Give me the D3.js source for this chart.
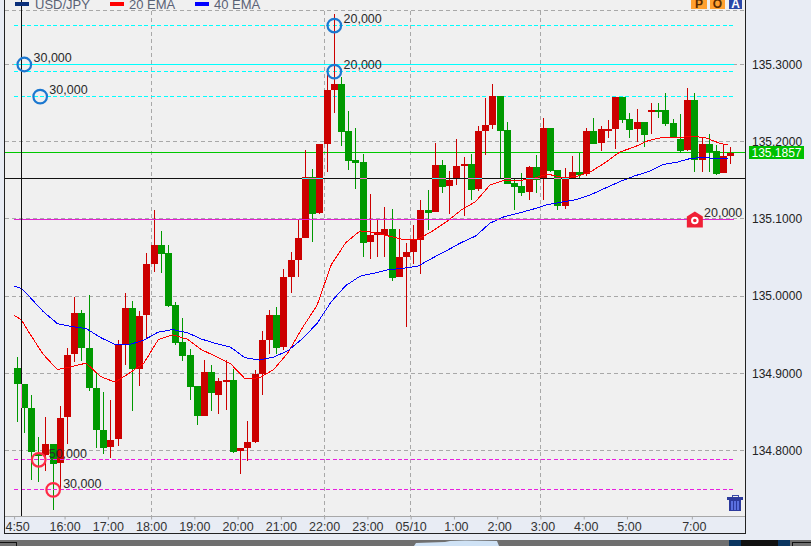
<!DOCTYPE html>
<html><head><meta charset="utf-8">
<style>html,body{margin:0;padding:0;background:#e8ecf4;overflow:hidden}svg{display:block}text{font-family:"Liberation Sans",Arial,sans-serif}</style>
<script src="https://cdn.jsdelivr.net/npm/d3@7"></script></head><body><svg id="c" width="811" height="546"></svg>
<script>
const opens=[134.9074,134.8867,134.8556,134.7960,134.7947,134.8090,134.7835,134.8431,134.9246,134.9787,
134.9333,134.8815,134.8271,134.8042,134.8146,134.9385,134.9851,134.9061,134.9752,135.0421,
135.0667,135.0563,134.9890,134.9411,134.9242,134.8841,134.8453,134.9023,134.8724,134.8906,
134.8919,134.7999,134.8038,134.8116,134.8996,134.9437,134.9761,134.9346,135.0253,135.0473,
135.0758,135.1549,135.1082,135.1976,135.2675,135.2753,135.2144,135.1768,135.1743,135.0706,
135.0797,135.0797,135.0875,135.0253,135.0512,135.0576,135.0732,135.1120,135.1095,135.1704,
135.1432,135.1523,135.1691,135.1717,135.1393,135.2144,135.2222,135.2597,135.2157,135.1471,
135.1432,135.1354,135.1678,135.1523,135.2183,135.1639,135.1173,135.1536,135.1613,135.1587,
135.2144,135.1989,135.2157,135.2170,135.2584,135.2300,135.2170,135.2261,135.2403,135.2416,
135.2416,135.2248,135.2041,135.1898,135.2546,135.1768,135.1976,135.1885,135.1600,135.1820];
const closes=[134.8858,134.8547,134.7977,134.7925,134.8090,134.7819,134.8427,134.9242,134.9787,134.9325,
134.8806,134.8262,134.8029,134.8142,134.9385,134.9851,134.9052,134.9748,135.0421,135.0667,
135.0550,134.9877,134.9398,134.9230,134.8828,134.8444,134.9023,134.8751,134.8906,134.8919,
134.7986,134.8038,134.8116,134.8996,134.9437,134.9761,134.9333,135.0253,135.0473,135.0758,
135.1549,135.1069,135.1976,135.2675,135.2753,135.2131,135.1755,135.1730,135.0693,135.0797,
135.0836,135.0875,135.0240,135.0512,135.0576,135.0732,135.1120,135.1082,135.1704,135.1419,
135.1510,135.1691,135.1717,135.1380,135.2144,135.2222,135.2597,135.2144,135.1458,135.1419,
135.1341,135.1678,135.1510,135.2183,135.1626,135.1173,135.1523,135.1613,135.1574,135.2144,
135.1976,135.2170,135.2170,135.2584,135.2287,135.2157,135.2261,135.2092,135.2416,135.2403,
135.2235,135.2054,135.1885,135.2546,135.1768,135.1976,135.1872,135.1587,135.1820,135.1859];
const highs=[134.9217,134.8867,134.8724,134.8181,134.8431,134.8090,134.8582,134.9333,134.9994,134.9825,
135.0020,134.9009,134.8763,134.8660,134.9437,135.0046,134.9942,134.9812,135.0563,135.1120,
135.0848,135.0667,134.9929,134.9722,134.9320,134.8841,134.9178,134.9113,134.8945,134.9178,
134.9061,134.8038,134.8388,134.9048,134.9553,134.9825,134.9864,135.0357,135.0576,135.0991,
135.1898,135.1652,135.1976,135.2921,135.3660,135.2844,135.2403,135.2183,135.1846,135.1328,
135.0991,135.1160,135.1134,135.0875,135.0693,135.0926,135.1250,135.1380,135.1989,135.1769,
135.1614,135.2041,135.1807,135.1846,135.2209,135.2572,135.2753,135.2597,135.2261,135.1536,
135.1600,135.1691,135.1833,135.2313,135.2183,135.1639,135.1665,135.1820,135.1859,135.2183,
135.2313,135.2209,135.2287,135.2584,135.2584,135.2377,135.2429,135.2261,135.2507,135.2507,
135.2636,135.2300,135.2364,135.2701,135.2636,135.2066,135.2105,135.1963,135.1976,135.1937];
const lows=[134.8366,134.8223,134.7624,134.7598,134.7731,134.7234,134.7494,134.8090,134.9152,134.9165,
134.8777,134.8029,134.7951,134.7899,134.8064,134.9113,134.8517,134.8841,134.9450,135.0317,
135.0304,134.9864,134.9372,134.9165,134.8660,134.8336,134.8453,134.8508,134.8479,134.8530,
134.7973,134.7701,134.7869,134.8103,134.8724,134.9249,134.9249,134.9307,135.0046,135.0253,
135.0758,135.0706,135.1069,135.1613,135.2377,135.1950,135.1639,135.1393,135.0512,135.0486,
135.0512,135.0512,135.0201,135.0253,134.9605,135.0421,135.0291,135.0862,135.1095,135.1341,
135.1069,135.1445,135.1043,135.1250,135.1367,135.1833,135.2170,135.1523,135.1458,135.1120,
135.1302,135.1250,135.1341,135.1250,135.1613,135.1120,135.1134,135.1523,135.1536,135.1561,
135.1976,135.1885,135.2054,135.1911,135.2248,135.2054,135.2002,135.1937,135.2105,135.2313,
135.2209,135.2054,135.1859,135.1885,135.1613,135.1613,135.1613,135.1574,135.1600,135.1716];
const emaBars=[0,1,2,4,6,8,10,12,14,16,18,20,22,24,26,28,30,32,34,36,38,40,42,44,46,48,50,52,54,56,58,60,62,64,66,68,70,72,74,76,78,80,82,84,86,88,90,92,94,96,98,99];
const ema20=[134.9748,134.9696,134.9540,134.9250,134.9048,134.9087,134.9132,134.8957,134.8886,134.9003,134.9132,134.9437,134.9498,134.9443,134.9306,134.9217,134.9126,134.8932,134.8941,134.9048,134.9269,134.9592,134.9877,135.0408,135.0693,135.0845,135.0823,135.0777,135.0732,135.0734,135.0842,135.0965,135.1114,135.1224,135.1438,135.1503,135.1496,135.1522,135.1581,135.1535,135.1548,135.1613,135.1730,135.1866,135.1931,135.2015,135.2057,135.2050,135.2073,135.2047,135.1976,135.1959];
const ema40=[135.0132,135.0097,135.0006,134.9803,134.9644,134.9605,134.9579,134.9463,134.9372,134.9372,134.9430,134.9534,134.9566,134.9527,134.9443,134.9385,134.9339,134.9203,134.9171,134.9210,134.9294,134.9450,134.9644,134.9929,135.0136,135.0259,135.0298,135.0343,135.0360,135.0388,135.0492,135.0589,135.0693,135.0777,135.0945,135.1030,135.1075,135.1127,135.1185,135.1218,135.1250,135.1315,135.1399,135.1483,135.1555,135.1613,135.1704,135.1736,135.1788,135.1791,135.1782,135.1778];
const tickBars=[0,7,13,19,25,31,37,43,49,55,61,67,73,79,85,94];
const tickLabels=["4:50","16:00","17:00","18:00","19:00","20:00","21:00","22:00","23:00","05/10","1:00","2:00","3:00","4:00","5:00","7:00"];
const gridBars=[19,43,55,73];
const yTicks=[135.3,135.2,135.1,135.0,134.9,134.8];
const topGrid=135.3698;
const cyanDashed=[135.3504,135.2908,135.2584];
const cyanSolid=[135.3];
const magentaDashed=[134.7879,134.7490];
const magentaSolid=[135.0993];
const lastPrice=135.1857;
const crossPrice=135.1518, crossBar=1.02;
const buyBars=[1,3.2,44,44], buyPrices=[135.3,135.2584,135.3504,135.2908], buyLabels=["30,000","30,000","20,000","20,000"];
const sellBars=[3,5], sellPrices=[134.7879,134.7490], sellLabels=["50,000","30,000"];
const orderBar=94, orderPrice=135.0993, orderLabel="20,000";
const legendNames=["USD/JPY","20 EMA","40 EMA"];

const svg=d3.select("#c");
const L=4.5,R=745.5,T=0,B=516.5,Bot=533.5;
const x=d3.scaleLinear().domain([0,99]).range([14.1,14.1+7.21*99]);
const y=d3.scaleLinear().domain([134.8,135.3]).range([450.5,64.5]);
const cx=i=>x(i)+3;
const py=v=>Math.floor(y(v))+.5;

svg.append("rect").attr("width",811).attr("height",546).attr("fill","#e8ecf4");
svg.append("rect").attr("x",L).attr("y",0).attr("width",R-L).attr("height",B).attr("fill","#f0f0f0");

// bottom strip
const st=svg.append("g");
st.append("rect").attr("x",0).attr("y",540).attr("width",811).attr("height",6).attr("fill","#6f6f6f");
st.append("path").attr("d","M414 546L416 543L445 542L450 541L465 540.5L497 541L499 546Z").attr("fill","#cfe2f5");
st.append("rect").attr("x",729).attr("y",540).attr("width",12).attr("height",6).attr("fill","#0b3560");
st.append("rect").attr("x",741).attr("y",540).attr("width",37).attr("height",6).attr("fill","#111");
st.append("rect").attr("x",778).attr("y",540).attr("width",12).attr("height",6).attr("fill","#0b3560");
st.append("rect").attr("x",792.5).attr("y",542.5).attr("width",20).attr("height",6).attr("fill","none").attr("stroke","#111");
st.append("rect").attr("x",-2).attr("y",542.5).attr("width",18.5).attr("height",6).attr("fill","none").attr("stroke","#111");

// grid
const grid=svg.append("g").attr("stroke","#a8a8a8").attr("stroke-dasharray","4 3").attr("shape-rendering","crispEdges");
grid.selectAll("line.h").data([topGrid,...yTicks]).join("line").attr("class","h")
 .attr("x1",L).attr("x2",R).attr("y1",py).attr("y2",py);
grid.selectAll("line.v").data(gridBars).join("line").attr("class","v")
 .attr("x1",d=>Math.floor(x(d))+.5).attr("x2",d=>Math.floor(x(d))+.5).attr("y1",py(topGrid)).attr("y2",B);

// levels behind candles
const lev=(g,data,col,dash,x1,x2)=>g.selectAll(null).data(data).join("line")
 .attr("x1",x1).attr("x2",x2).attr("y1",py).attr("y2",py)
 .attr("stroke",col).attr("stroke-dasharray",dash).attr("shape-rendering","crispEdges");
const lv=svg.append("g");
lev(lv,[lastPrice],"#00c800",null,L,R);
lev(lv,cyanSolid,"#00ffff",null,14,734);
lev(lv,cyanDashed,"#00ffff","4 2.5",14,734);

// candles
const bars=d3.range(opens.length);
const RED="#cc0000",GREEN="#009900";
const colr=i=>closes[i]>=opens[i]?RED:GREEN;
const cg=svg.append("g").attr("shape-rendering","crispEdges");
const bx=i=>Math.round(cx(i)-3.5);
cg.selectAll("rect.w").data(bars).join("rect").attr("class","w")
 .attr("x",i=>bx(i)+3).attr("width",1)
 .attr("y",i=>Math.round(y(highs[i]))).attr("height",i=>Math.max(1,Math.round(y(lows[i]))-Math.round(y(highs[i]))))
 .attr("fill",colr);
cg.selectAll("rect.b").data(bars).join("rect").attr("class","b")
 .attr("x",bx).attr("width",7)
 .attr("y",i=>Math.round(y(Math.max(opens[i],closes[i]))))
 .attr("height",i=>Math.max(2,Math.round(y(Math.min(opens[i],closes[i])))-Math.round(y(Math.max(opens[i],closes[i])))))
 .attr("fill",colr);

// EMA
const ln=vals=>d3.line().x((d,k)=>x(emaBars[k])).y(d=>y(d))(vals);
svg.append("path").attr("d",ln(ema20)).attr("fill","none").attr("stroke","#ff0000").attr("stroke-width",1).attr("shape-rendering","crispEdges");
svg.append("path").attr("d",ln(ema40)).attr("fill","none").attr("stroke","#0000ff").attr("stroke-width",1).attr("shape-rendering","crispEdges");

// levels above candles
const lv2=svg.append("g");
lev(lv2,magentaDashed,"#e820e0","4 2.5",14,734);
lev(lv2,magentaSolid,"#e020d0",null,14,734);

// crosshair
const ch=svg.append("g").attr("shape-rendering","crispEdges");
const chX=Math.floor(x(crossBar))+.5, chY=py(crossPrice);
ch.append("line").attr("x1",L).attr("x2",R).attr("y1",chY).attr("y2",chY).attr("stroke","#111");
ch.append("line").attr("x1",chX).attr("x2",chX).attr("y1",0).attr("y2",B).attr("stroke","#111");
const cross=bars.filter(i=>Math.min(opens[i],closes[i])<crossPrice&&Math.max(opens[i],closes[i])>crossPrice);
ch.selectAll("line.xh").data(cross).join("line").attr("class","xh")
 .attr("x1",bx).attr("x2",i=>bx(i)+7).attr("y1",chY).attr("y2",chY)
 .attr("stroke",i=>colr(i)===RED?"#33ffff":"#ff66cc");
const vb=bars.filter(i=>Math.abs(cx(i)-chX)<=3.5);
ch.selectAll("line.xv").data(vb).join("line").attr("class","xv")
 .attr("x1",chX).attr("x2",chX)
 .attr("y1",i=>Math.round(y(Math.max(opens[i],closes[i])))).attr("y2",i=>Math.round(y(Math.min(opens[i],closes[i]))))
 .attr("stroke","#ff88dd");

// panel frame and axis strip
svg.append("rect").attr("x",L).attr("y",B).attr("width",R-L).attr("height",Bot-B).attr("fill","#e8ecf4");
svg.append("line").attr("x1",L).attr("x2",R).attr("y1",B).attr("y2",B).attr("stroke","#a8a8a8").attr("shape-rendering","crispEdges");
svg.append("path").attr("d",`M${L} 0V${Bot}H${R}V0`).attr("fill","none").attr("stroke","#222").attr("shape-rendering","crispEdges");

// x axis
const xAxis=d3.axisBottom(x).tickValues(tickBars).tickFormat((d,k)=>tickLabels[k]).tickSize(3).tickPadding(3).tickSizeOuter(0);
const xg=svg.append("g").attr("transform",`translate(0,${B})`).call(xAxis);
xg.select(".domain").remove();
xg.selectAll(".tick line").attr("stroke","#a8a8a8");
xg.selectAll(".tick text").attr("font-size",12.5).attr("font-family","Liberation Sans").attr("fill","#333")
 .attr("dx",(d,k)=>k===0?3:(d>55?2:0));

// y axis
const yAxis=d3.axisRight(y).tickValues(yTicks).tickFormat(d3.format(".4f")).tickSize(0).tickPadding(6.5);
const yg=svg.append("g").attr("transform",`translate(${R},0)`).call(yAxis);
yg.select(".domain").remove();
yg.selectAll(".tick text").attr("font-size",12).attr("font-family","Liberation Sans").attr("fill","#222");

// price tag
const tagY=py(lastPrice);
svg.append("rect").attr("x",749).attr("y",tagY-6.5).attr("width",55).attr("height",13).attr("fill","#00c000");
svg.append("text").attr("x",776.5).attr("y",tagY+4.3).attr("text-anchor","middle").attr("font-size",12).attr("fill","#fff").text(d3.format(".4f")(lastPrice));

// order markers
const mark=(bs,ps,ls,col,off)=>{
 const g=svg.append("g");
 g.selectAll("circle").data(bs).join("circle").attr("cx",d=>cx(d)).attr("cy",(d,k)=>y(ps[k]))
  .attr("r",6.8).attr("fill","none").attr("stroke",col).attr("stroke-width",2.2);
 g.selectAll("text").data(bs).join("text").attr("x",d=>cx(d)+off).attr("y",(d,k)=>y(ps[k])-2.2)
  .attr("font-size",12.5).attr("fill","#2a2a2a").text((d,k)=>ls[k]);
};
mark(buyBars,buyPrices,buyLabels,"#1c78d0",9.2);
mark(sellBars,sellPrices,sellLabels,"#ff2a45",10);

// pending order icon
const ox=x(orderBar)+3, oy=y(orderPrice);
const og=svg.append("g").attr("transform",`translate(${ox},${oy})`);
og.append("path").attr("d","M0 -8L8 -3V8H-8V-3Z").attr("fill","#f02035");
og.append("circle").attr("cy",1).attr("r",2.8).attr("fill","none").attr("stroke","#fff").attr("stroke-width",2);
svg.append("text").attr("x",704).attr("y",217).attr("font-size",12.5).attr("fill","#2a2a2a").text(orderLabel);

// legend
const lg=svg.append("g");
const swx=[15,110,195], txx=[35,129,214], swc=["#0a2f7a","#ff0000","#0000ff"];
legendNames.forEach((n,k)=>{
 lg.append("rect").attr("x",swx[k]).attr("y",2).attr("width",14).attr("height",4).attr("fill",swc[k]);
 lg.append("text").attr("x",txx[k]).attr("y",8.6).attr("font-size",13).attr("fill","#5a6275").text(n);
});

// P O A buttons
const btns=[["P",691,16,"#ffa030","#5a2a00"],["O",710,15,"#ffa030","#5a2a00"],["A",729,13,"#2a48a8","#ffffff"]];
btns.forEach(b=>{
 svg.append("rect").attr("x",b[1]).attr("y",-1).attr("width",b[2]).attr("height",10).attr("fill",b[3]);
 svg.append("text").attr("x",b[1]+b[2]/2).attr("y",7.5).attr("text-anchor","middle").attr("font-size",12).attr("font-weight","bold").attr("fill",b[4]).text(b[0]);
});

// trash
const tr=svg.append("g").attr("transform","translate(727,495)").attr("shape-rendering","crispEdges");
tr.append("rect").attr("x",5).attr("y",0).attr("width",6).attr("height",2).attr("fill","none").attr("stroke","#3a4aa8");
tr.append("rect").attr("x",0).attr("y",2).attr("width",16).attr("height",2.5).attr("fill","#2c3a9c");
tr.append("path").attr("d","M1.5 5H14.5L13.5 16H2.5Z").attr("fill","#2c3a9c");
[4,7,10].forEach(a=>tr.append("rect").attr("x",a).attr("y",6).attr("width",2).attr("height",9).attr("fill","#5a70e0"));
</script></body></html>
